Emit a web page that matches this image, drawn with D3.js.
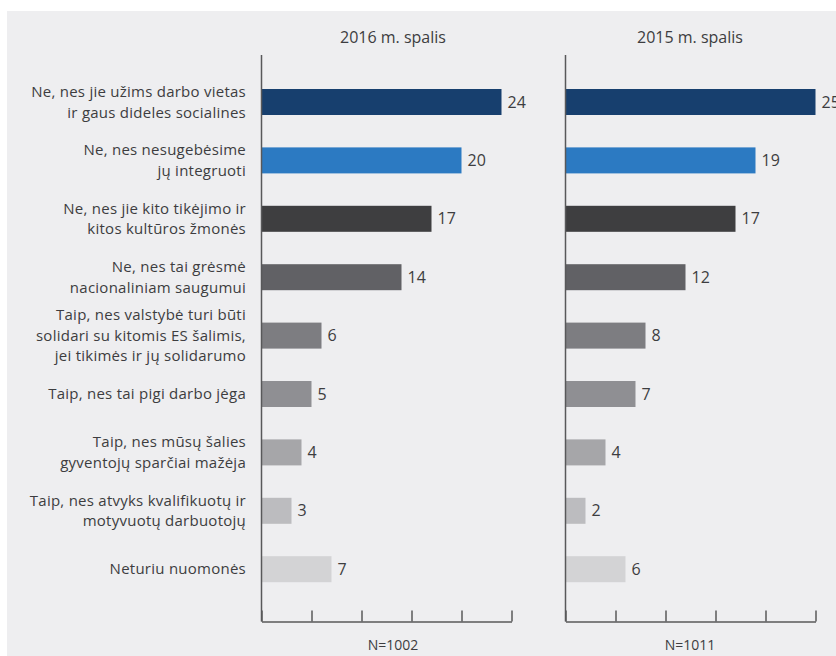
<!DOCTYPE html>
<html>
<head>
<meta charset="utf-8">
<script src="https://cdn.jsdelivr.net/npm/d3@7"></script>
<style>
  body { margin: 0; background: #fff; }
  text { font-family: "Open Sans", sans-serif; fill: #3d3d40; }
  .axis path, .axis line { stroke: #58585a; stroke-width: 1.5; }
</style>
</head>
<body>
<div id="chart"></div>
<script>
// answer labels, one entry per line of text
const categories = [
  ["Ne, nes jie užims darbo vietas", "ir gaus dideles socialines"],
  ["Ne, nes nesugebėsime", "jų integruoti"],
  ["Ne, nes jie kito tikėjimo ir", "kitos kultūros žmonės"],
  ["Ne, nes tai grėsmė", "nacionaliniam saugumui"],
  ["Taip, nes valstybė turi būti", "solidari su kitomis ES šalimis,", "jei tikimės ir jų solidarumo"],
  ["Taip, nes tai pigi darbo jėga"],
  ["Taip, nes mūsų šalies", "gyventojų sparčiai mažėja"],
  ["Taip, nes atvyks kvalifikuotų ir", "motyvuotų darbuotojų"],
  ["Neturiu nuomonės"]
];
const values2016 = [24, 20, 17, 14, 6, 5, 4, 3, 7];
const values2015 = [25, 19, 17, 12, 8, 7, 4, 2, 6];
const panelTitles = ["2016 m. spalis", "2015 m. spalis"];
const sampleSizes = ["N=1002", "N=1011"];
const axisTicks = [0, 5, 10, 15, 20, 25];
const barColors = ["#173f6e", "#2c7ac2", "#3e3e40", "#616165", "#7d7d81",
                   "#8f8f93", "#a6a6a9", "#bcbcbf", "#d3d3d5"];

const width = 836, height = 656;
const plotTop = 55, plotBottom = 621.5;

const svg = d3.select("#chart").append("svg")
  .attr("width", width)
  .attr("height", height);

svg.append("rect")
  .attr("x", 7).attr("y", 11)
  .attr("width", width - 7).attr("height", height - 11)
  .attr("fill", "#eeeef0");

const y = d3.scaleBand()
  .domain(d3.range(categories.length))
  .range([72.8, 598.4]);

const barH = 26;

// category labels on the left
const labels = svg.selectAll("text.cat")
  .data(categories)
  .enter()
  .append("text")
  .attr("class", "cat")
  .attr("text-anchor", "end")
  .style("font-size", "15px")
  .style("letter-spacing", "0.25px");

labels.each(function(lines, i) {
  const lh = 20.6;
  const cy = y(i) + y.bandwidth() / 2;
  const y0 = cy - (lines.length - 1) * lh / 2;
  d3.select(this).selectAll("tspan")
    .data(lines)
    .enter()
    .append("tspan")
    .attr("x", 246)
    .attr("y", (d, j) => y0 + j * lh)
    .attr("dy", "0.35em")
    .text(d => d);
});

const panels = [
  { values: values2016, x0: 261.5, cx: 393, title: panelTitles[0], n: sampleSizes[0] },
  { values: values2015, x0: 565.5, cx: 690, title: panelTitles[1], n: sampleSizes[1] }
];

panels.forEach(p => {
  const x = d3.scaleLinear()
    .domain([0, 25])
    .range([p.x0, p.x0 + 250]);

  svg.append("text")
    .attr("x", p.cx)
    .attr("y", 37)
    .attr("dy", "0.35em")
    .attr("text-anchor", "middle")
    .style("font-size", "16px")
    .text(p.title);

  svg.selectAll(null)
    .data(p.values)
    .enter()
    .append("rect")
    .attr("x", x(0))
    .attr("y", (d, i) => y(i) + (y.bandwidth() - barH) / 2)
    .attr("width", d => x(d) - x(0))
    .attr("height", barH)
    .attr("fill", (d, i) => barColors[i]);

  svg.selectAll(null)
    .data(p.values)
    .enter()
    .append("text")
    .attr("x", d => x(d) + 6)
    .attr("y", (d, i) => y(i) + y.bandwidth() / 2)
    .attr("dy", "0.35em")
    .style("font-size", "16px")
    .text(d => d);

  const xAxis = d3.axisBottom(x)
    .tickValues(axisTicks)
    .tickSizeInner(-11)
    .tickSizeOuter(0)
    .tickFormat("");

  svg.append("g")
    .attr("class", "axis")
    .attr("transform", `translate(0, ${plotBottom})`)
    .call(xAxis);

  svg.append("line")
    .attr("class", "vline")
    .attr("x1", x(0)).attr("x2", x(0))
    .attr("y1", plotTop).attr("y2", plotBottom)
    .attr("stroke", "#58585a")
    .attr("stroke-width", 1.5);

  svg.append("text")
    .attr("x", p.cx)
    .attr("y", 645)
    .attr("dy", "0.35em")
    .attr("text-anchor", "middle")
    .style("font-size", "14px")
    .text(p.n);
});
</script>
</body>
</html>
